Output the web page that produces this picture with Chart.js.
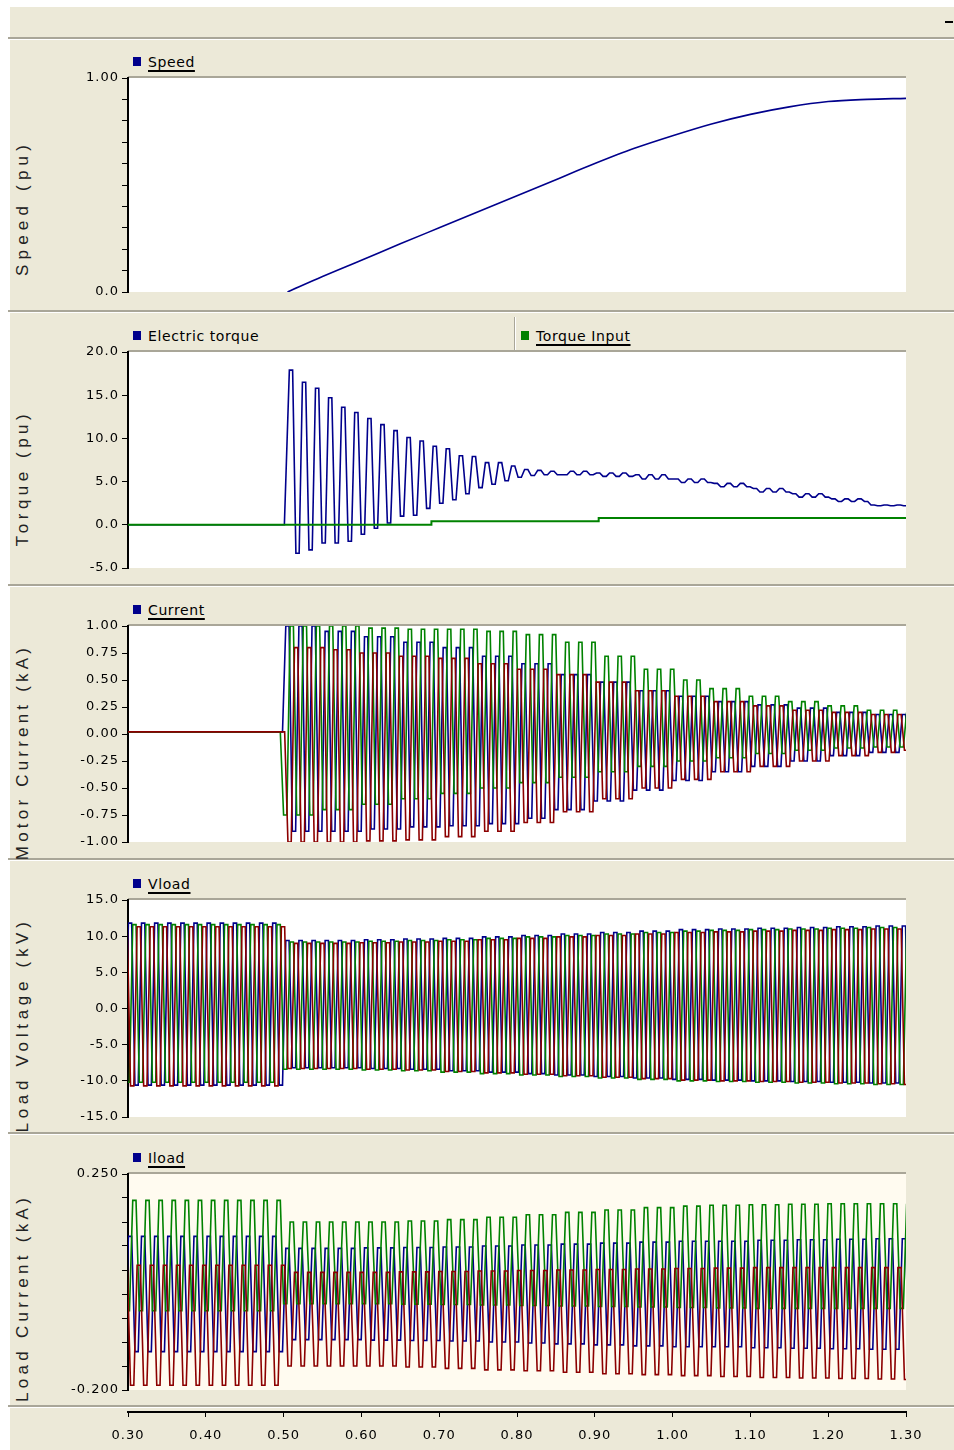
<!DOCTYPE html>
<html>
<head>
<meta charset="utf-8">
<script src="https://cdn.jsdelivr.net/npm/chart.js@4.4.1/dist/chart.umd.min.js"></script>
<style>
  body { margin: 0; background: #fff; }
  #page { position: relative; width: 954px; height: 1450px; overflow: hidden; font-family: "DejaVu Sans", sans-serif; }
  #bg { position: absolute; left: 10px; top: 7px; right: 0; bottom: 0; background: #ece9d8; }
  .sep { position: absolute; left: 8px; right: 0; height: 2px; background: #a9a698; border-bottom: 1px solid #fff; }
  .box { position: absolute; left: 0; }
  .ytitle { position: absolute; left: 23px; transform: translate(-50%, -50%) rotate(-90deg); white-space: nowrap;
            font: 17px "Liberation Sans", Arial, sans-serif; color: #222; }
  .leg { position: absolute; font-size: 14px; letter-spacing: 0.6px; color: #000; white-space: nowrap; }
  .leg i { display: inline-block; width: 8px; height: 9px; margin-right: 7px; vertical-align: 1px; }
  .leg u { text-decoration-thickness: 2px; text-underline-offset: 3px; }
  .vsep { position: absolute; left: 514px; top: 317px; width: 1px; height: 34px; background: #a9a698; border-right: 1px solid #fff; }
  .dash { position: absolute; left: 945px; top: 21px; width: 8px; height: 2px; background: #000; }
</style>
</head>
<body>
<div id="page">
  <div id="bg"></div>
  <div class="dash"></div>
  <div class="sep" style="top:37px"></div>
  <div class="sep" style="top:310px"></div>
  <div class="sep" style="top:584px"></div>
  <div class="sep" style="top:858px"></div>
  <div class="sep" style="top:1132px"></div>
  <div class="sep" style="top:1405px"></div>
  <div class="vsep"></div>

  <div class="ytitle" style="top:208px;letter-spacing:5.2px">Speed (pu)</div>
  <div class="ytitle" style="top:478px;letter-spacing:4.5px">Torque (pu)</div>
  <div class="ytitle" style="top:752px;letter-spacing:4.2px">Motor Current (kA)</div>
  <div class="ytitle" style="top:1025px;letter-spacing:4.7px">Load Voltage (kV)</div>
  <div class="ytitle" style="top:1298px;letter-spacing:4.3px">Load Current (kA)</div>

  <div class="leg" style="left:133px;top:54px"><i style="background:#00008c"></i><u>Speed</u></div>
  <div class="leg" style="left:133px;top:328px"><i style="background:#00008c"></i>Electric torque</div>
  <div class="leg" style="left:521px;top:328px"><i style="background:#008200"></i><u>Torque Input</u></div>
  <div class="leg" style="left:133px;top:602px"><i style="background:#00008c"></i><u>Current</u></div>
  <div class="leg" style="left:133px;top:876px"><i style="background:#00008c"></i><u>Vload</u></div>
  <div class="leg" style="left:133px;top:1150px"><i style="background:#00008c"></i><u>Iload</u></div>

  <div class="box" style="top:66px"><canvas id="c1" width="954" height="238"></canvas></div>
  <div class="box" style="top:340px"><canvas id="c2" width="954" height="240"></canvas></div>
  <div class="box" style="top:614px"><canvas id="c3" width="954" height="240"></canvas></div>
  <div class="box" style="top:888px"><canvas id="c4" width="954" height="241"></canvas></div>
  <div class="box" style="top:1162px"><canvas id="c5" width="954" height="240"></canvas></div>
  <div class="box" style="top:1400px"><canvas id="c6" width="954" height="50"></canvas></div>
</div>

<script>
// time axis
const xTicks = [0.3, 0.4, 0.5, 0.6, 0.7, 0.8, 0.9, 1.0, 1.1, 1.2, 1.3];
const xTickLabels = ['0.30', '0.40', '0.50', '0.60', '0.70', '0.80', '0.90', '1.00', '1.10', '1.20', '1.30'];

// speed (pu)
const speedTimes = [0.505, 0.55, 0.60, 0.65, 0.70, 0.75, 0.80, 0.85, 0.90, 0.95, 1.00, 1.05, 1.10, 1.15, 1.20, 1.25, 1.30];
const speedValues = [0.0, 0.072, 0.148, 0.225, 0.30, 0.375, 0.45, 0.525, 0.60, 0.67, 0.73, 0.785, 0.83, 0.865, 0.89, 0.90, 0.905];
const speedTickValues = [0, 1];
const speedTickLabels = ['0.0', '1.00'];

// electric torque: start, then successive peaks / troughs of the start-up swing
const torqueStart = 0.501;
const torqueFirstPeak = 0.5095;
const torqueHalf = 0.0084;
const torqueExtremes = [17.9, -3.3, 16.5, -2.9, 15.8, -2.1, 14.7, -2.1, 13.6, -1.9, 13.0, -1.1, 12.3, -0.4,
  11.6, 0.2, 10.9, 1.0, 10.1, 1.1, 9.7, 1.9, 9.1, 2.5, 8.8, 2.9, 8.0, 3.6, 7.9, 4.3, 7.2, 4.7, 7.2, 5.1,
  6.8, 5.5, 6.4, 5.7, 6.3, 5.8, 6.2, 5.8];
// electric torque after the swing: ripple top / bottom
const torqueTailTimes = [0.85, 0.90, 0.95, 1.00, 1.05, 1.10, 1.15, 1.20, 1.25, 1.30];
const torqueTailTop = [6.2, 6.0, 5.8, 5.3, 4.8, 4.2, 3.6, 3.0, 2.3, 2.2];
const torqueTailBottom = [5.8, 5.6, 5.3, 4.9, 4.4, 3.8, 3.2, 2.7, 2.2, 2.2];
// torque input (steps)
const torqueInTimes = [0.3, 0.69, 0.905, 1.3];
const torqueInValues = [0, 0.4, 0.8, 0.8];
const torqueTickValues = [-5, 0, 5, 10, 15, 20];
const torqueTickLabels = ['-5.0', '0.0', '5.0', '10.0', '15.0', '20.0'];

// envelope sample times for the three-phase traces
const envTimes = [0.30, 0.35, 0.40, 0.45, 0.50, 0.55, 0.60, 0.65, 0.70, 0.75, 0.80,
  0.85, 0.90, 0.95, 1.00, 1.05, 1.10, 1.15, 1.20, 1.25, 1.30];

// motor current (kA), phase tops / bottoms
const curATop = [0.02, 0.02, 0.02, 0.02, 1.00, 0.95, 0.90, 0.85, 0.80, 0.72, 0.65, 0.55, 0.48, 0.40, 0.35, 0.30, 0.27, 0.24, 0.20, 0.18, 0.17];
const curABot = [0.02, 0.02, 0.02, 0.02, -0.90, -0.90, -0.88, -0.86, -0.85, -0.83, -0.78, -0.70, -0.62, -0.52, -0.43, -0.35, -0.30, -0.25, -0.20, -0.17, -0.15];
const curBTop = [0.02, 0.02, 0.02, 0.02, 1.00, 1.00, 0.98, 0.97, 0.97, 0.95, 0.92, 0.85, 0.72, 0.60, 0.50, 0.42, 0.35, 0.30, 0.26, 0.22, 0.20];
const curBBot = [0.02, 0.02, 0.02, 0.02, -0.75, -0.70, -0.65, -0.60, -0.55, -0.50, -0.45, -0.40, -0.35, -0.30, -0.25, -0.22, -0.18, -0.15, -0.13, -0.12, -0.12];
const curCTop = [0.02, 0.02, 0.02, 0.02, 0.80, 0.78, 0.75, 0.72, 0.70, 0.65, 0.60, 0.55, 0.48, 0.40, 0.35, 0.30, 0.26, 0.22, 0.20, 0.18, 0.17];
const curCBot = [0.02, 0.02, 0.02, 0.02, -1.00, -1.00, -0.99, -0.98, -0.95, -0.90, -0.82, -0.72, -0.60, -0.50, -0.42, -0.35, -0.30, -0.25, -0.20, -0.17, -0.15];
const curTickValues = [-1, -0.75, -0.5, -0.25, 0, 0.25, 0.5, 0.75, 1];
const curTickLabels = ['-1.00', '-0.75', '-0.50', '-0.25', '0.00', '0.25', '0.50', '0.75', '1.00'];

// load voltage (kV), phase tops / bottoms
const vATop = [11.8, 11.8, 11.8, 11.8, 9.4, 9.4, 9.5, 9.6, 9.7, 9.9, 10.1, 10.3, 10.5, 10.7, 10.9, 11.0, 11.1, 11.2, 11.3, 11.4, 11.4];
const vABot = [-10.6, -10.6, -10.6, -10.6, -8.2, -8.2, -8.3, -8.4, -8.6, -8.8, -9.0, -9.2, -9.4, -9.6, -9.8, -9.9, -10.0, -10.1, -10.2, -10.3, -10.4];
const vBTop = [11.6, 11.6, 11.6, 11.6, 9.2, 9.2, 9.3, 9.4, 9.5, 9.7, 9.9, 10.1, 10.3, 10.5, 10.7, 10.8, 10.9, 11.0, 11.1, 11.2, 11.2];
const vBBot = [-10.2, -10.2, -10.2, -10.2, -8.4, -8.4, -8.5, -8.6, -8.8, -9.0, -9.2, -9.4, -9.6, -9.8, -10.0, -10.1, -10.2, -10.3, -10.4, -10.5, -10.6];
const vCTop = [11.3, 11.3, 11.3, 11.3, 9.0, 9.0, 9.1, 9.2, 9.3, 9.5, 9.7, 9.9, 10.1, 10.3, 10.5, 10.6, 10.7, 10.8, 10.9, 11.0, 11.0];
const vCBot = [-10.7, -10.7, -10.7, -10.7, -8.3, -8.3, -8.4, -8.5, -8.7, -8.9, -9.1, -9.3, -9.5, -9.7, -9.9, -10.0, -10.1, -10.2, -10.3, -10.4, -10.5];
const vTickValues = [-15, -10, -5, 0, 5, 10, 15];
const vTickLabels = ['-15.0', '-10.0', '-5.0', '0.0', '5.0', '10.0', '15.0'];

// load current (kA), phase tops / bottoms
const ilATop = [0.12, 0.12, 0.12, 0.12, 0.095, 0.095, 0.096, 0.097, 0.098, 0.10, 0.102, 0.104, 0.106, 0.108, 0.11, 0.11, 0.112, 0.113, 0.114, 0.115, 0.115];
const ilABot = [-0.12, -0.12, -0.12, -0.12, -0.095, -0.095, -0.096, -0.097, -0.098, -0.10, -0.102, -0.104, -0.106, -0.108, -0.11, -0.11, -0.112, -0.113, -0.114, -0.115, -0.115];
const ilBTop = [0.195, 0.195, 0.195, 0.195, 0.15, 0.15, 0.15, 0.152, 0.155, 0.16, 0.165, 0.17, 0.175, 0.18, 0.183, 0.185, 0.186, 0.187, 0.188, 0.188, 0.188];
const ilBBot = [-0.035, -0.035, -0.035, -0.035, -0.02, -0.02, -0.02, -0.021, -0.022, -0.023, -0.024, -0.025, -0.026, -0.027, -0.028, -0.029, -0.03, -0.03, -0.03, -0.03, -0.03];
const ilCTop = [0.06, 0.06, 0.06, 0.06, 0.045, 0.045, 0.045, 0.046, 0.047, 0.048, 0.049, 0.05, 0.051, 0.052, 0.053, 0.054, 0.055, 0.055, 0.055, 0.055, 0.055];
const ilCBot = [-0.19, -0.19, -0.19, -0.19, -0.15, -0.15, -0.15, -0.152, -0.155, -0.158, -0.16, -0.163, -0.166, -0.168, -0.17, -0.172, -0.174, -0.175, -0.176, -0.177, -0.178];
const ilTickValues = [-0.2, 0.25];
const ilTickLabels = ['-0.200', '0.250'];

const BLUE = '#00008c', GREEN = '#008200', RED = '#8c0000';
const H = 0.00843;                        // half period, from the peak spacing in the picture
const SHIFT = [0.0026, 0.0082, 0.0138];   // phase A, B, C

function holdAt(times, vals, t) {
  let i = 0;
  while (i + 1 < times.length && times[i + 1] <= t + 1e-9) i++;
  return vals[i];
}

// alternate between the top and bottom of each envelope, one level per half cycle,
// each level held flat for half of its half cycle
function wave(times, tops, bots, shift) {
  const pts = [];
  let k = 0;
  for (let t = 0.3 - 2 * H + shift; t <= 1.3 + 2 * H; t += H, k++) {
    const v = holdAt(times, k % 2 ? bots : tops, t);
    pts.push({ x: t - H / 4, y: v }, { x: t + H / 4, y: v });
  }
  return pts;
}

function torquePoints() {
  const q = torqueHalf / 4;
  const pts = [{ x: 0.3, y: 0 }, { x: torqueStart, y: 0 }];
  torqueExtremes.forEach((v, i) => {
    const t = torqueFirstPeak + i * torqueHalf;
    pts.push({ x: t - q, y: v }, { x: t + q, y: v });
  });
  let t = torqueFirstPeak + torqueExtremes.length * torqueHalf;
  let k = 0;
  for (; t <= 1.31; t += torqueHalf, k++) {
    const v = holdAt(torqueTailTimes, k % 2 ? torqueTailTop : torqueTailBottom, t);
    pts.push({ x: t - q, y: v }, { x: t + q, y: v });
  }
  return pts;
}

const plotBg = {
  id: 'plotBg',
  beforeDraw(chart, args, opts) {
    const { ctx, chartArea: a } = chart;
    ctx.save();
    ctx.fillStyle = opts.color || '#fff';
    ctx.fillRect(a.left, a.top, a.right - a.left, a.bottom - a.top);
    ctx.fillStyle = '#a9a698';
    ctx.fillRect(a.left, a.top - 2, a.right - a.left, 2);
    ctx.restore();
    ctx.letterSpacing = '1px';
  }
};

const tickFont = { family: 'DejaVu Sans', size: 13 };

function yAxis(min, max, step, vals, labels) {
  return {
    min: min, max: max,
    afterFit: s => { s.width = 128; },
    ticks: {
      stepSize: step, autoSkip: false, padding: 3, color: '#000', font: tickFont,
      callback: v => {
        const i = vals.findIndex(u => Math.abs(u - v) < 1e-6);
        return i < 0 ? '' : labels[i];
      }
    },
    grid: { drawOnChartArea: false, drawTicks: true, tickLength: 6, color: '#000' },
    border: { display: true, color: '#000', width: 2 }
  };
}

const xHidden = { type: 'linear', min: 0.3, max: 1.3, display: false };

function makeChart(id, datasets, y, bg) {
  return new Chart(document.getElementById(id), {
    type: 'line',
    data: { datasets: datasets },
    plugins: [plotBg],
    options: {
      responsive: false, animation: false, parsing: false,
      layout: { padding: { top: 12, bottom: 12, left: 0, right: 48 } },
      elements: { point: { radius: 0 }, line: { borderWidth: 1.6, tension: 0 } },
      plugins: { legend: { display: false }, tooltip: { enabled: false }, plotBg: { color: bg } },
      scales: { x: xHidden, y: y }
    }
  });
}

function line(color, data, order) {
  return { data: data, borderColor: color, backgroundColor: color, order: order };
}

function pairs(xs, ys) {
  return xs.map((x, i) => ({ x: x, y: ys[i] }));
}

// 1 speed
makeChart('c1', [
  Object.assign(line(BLUE, pairs(speedTimes, speedValues), 0), { cubicInterpolationMode: 'monotone' })
], yAxis(0, 1, 0.1, speedTickValues, speedTickLabels), '#fff');

// 2 torque
makeChart('c2', [
  Object.assign(line(GREEN, pairs(torqueInTimes, torqueInValues), 0), { stepped: 'before', borderWidth: 2 }),
  line(BLUE, torquePoints(), 1)
], yAxis(-5, 20, 5, torqueTickValues, torqueTickLabels), '#fff');

// 3 motor current
makeChart('c3', [
  line(RED, wave(envTimes, curCTop, curCBot, SHIFT[2]), 0),
  line(GREEN, wave(envTimes, curBTop, curBBot, SHIFT[1]), 1),
  line(BLUE, wave(envTimes, curATop, curABot, SHIFT[0]), 2)
], yAxis(-1, 1, 0.25, curTickValues, curTickLabels), '#fff');

// 4 load voltage
makeChart('c4', [
  line(RED, wave(envTimes, vCTop, vCBot, SHIFT[2]), 0),
  line(GREEN, wave(envTimes, vBTop, vBBot, SHIFT[1]), 1),
  line(BLUE, wave(envTimes, vATop, vABot, SHIFT[0]), 2)
], yAxis(-15, 15, 5, vTickValues, vTickLabels), '#fff');

// 5 load current
makeChart('c5', [
  line(RED, wave(envTimes, ilCTop, ilCBot, SHIFT[2]), 0),
  line(GREEN, wave(envTimes, ilBTop, ilBBot, SHIFT[1]), 1),
  line(BLUE, wave(envTimes, ilATop, ilABot, SHIFT[0]), 2)
], yAxis(-0.2, 0.25, 0.05, ilTickValues, ilTickLabels), '#fffbf0');

// 6 time axis
new Chart(document.getElementById('c6'), {
  type: 'line',
  data: { datasets: [] },
  plugins: [{ id: 'ls', beforeDraw(chart) { chart.ctx.letterSpacing = '1px'; } }],
  options: {
    responsive: false, animation: false,
    layout: { padding: { top: 0, bottom: 0, left: 128, right: 48 } },
    plugins: { legend: { display: false }, tooltip: { enabled: false } },
    scales: {
      y: { display: false },
      x: {
        type: 'linear', min: 0.3, max: 1.3,
        afterFit: s => { s.height = 38; },
        afterBuildTicks: s => { s.ticks = xTicks.map(v => ({ value: v })); },
        ticks: {
          autoSkip: false, maxRotation: 0, padding: 11, color: '#000', font: tickFont,
          callback: (v, i) => xTickLabels[i]
        },
        grid: { drawOnChartArea: false, drawTicks: true, tickLength: 5, color: '#000' },
        border: { display: true, color: '#000', width: 2 }
      }
    }
  }
});
</script>
</body>
</html>
